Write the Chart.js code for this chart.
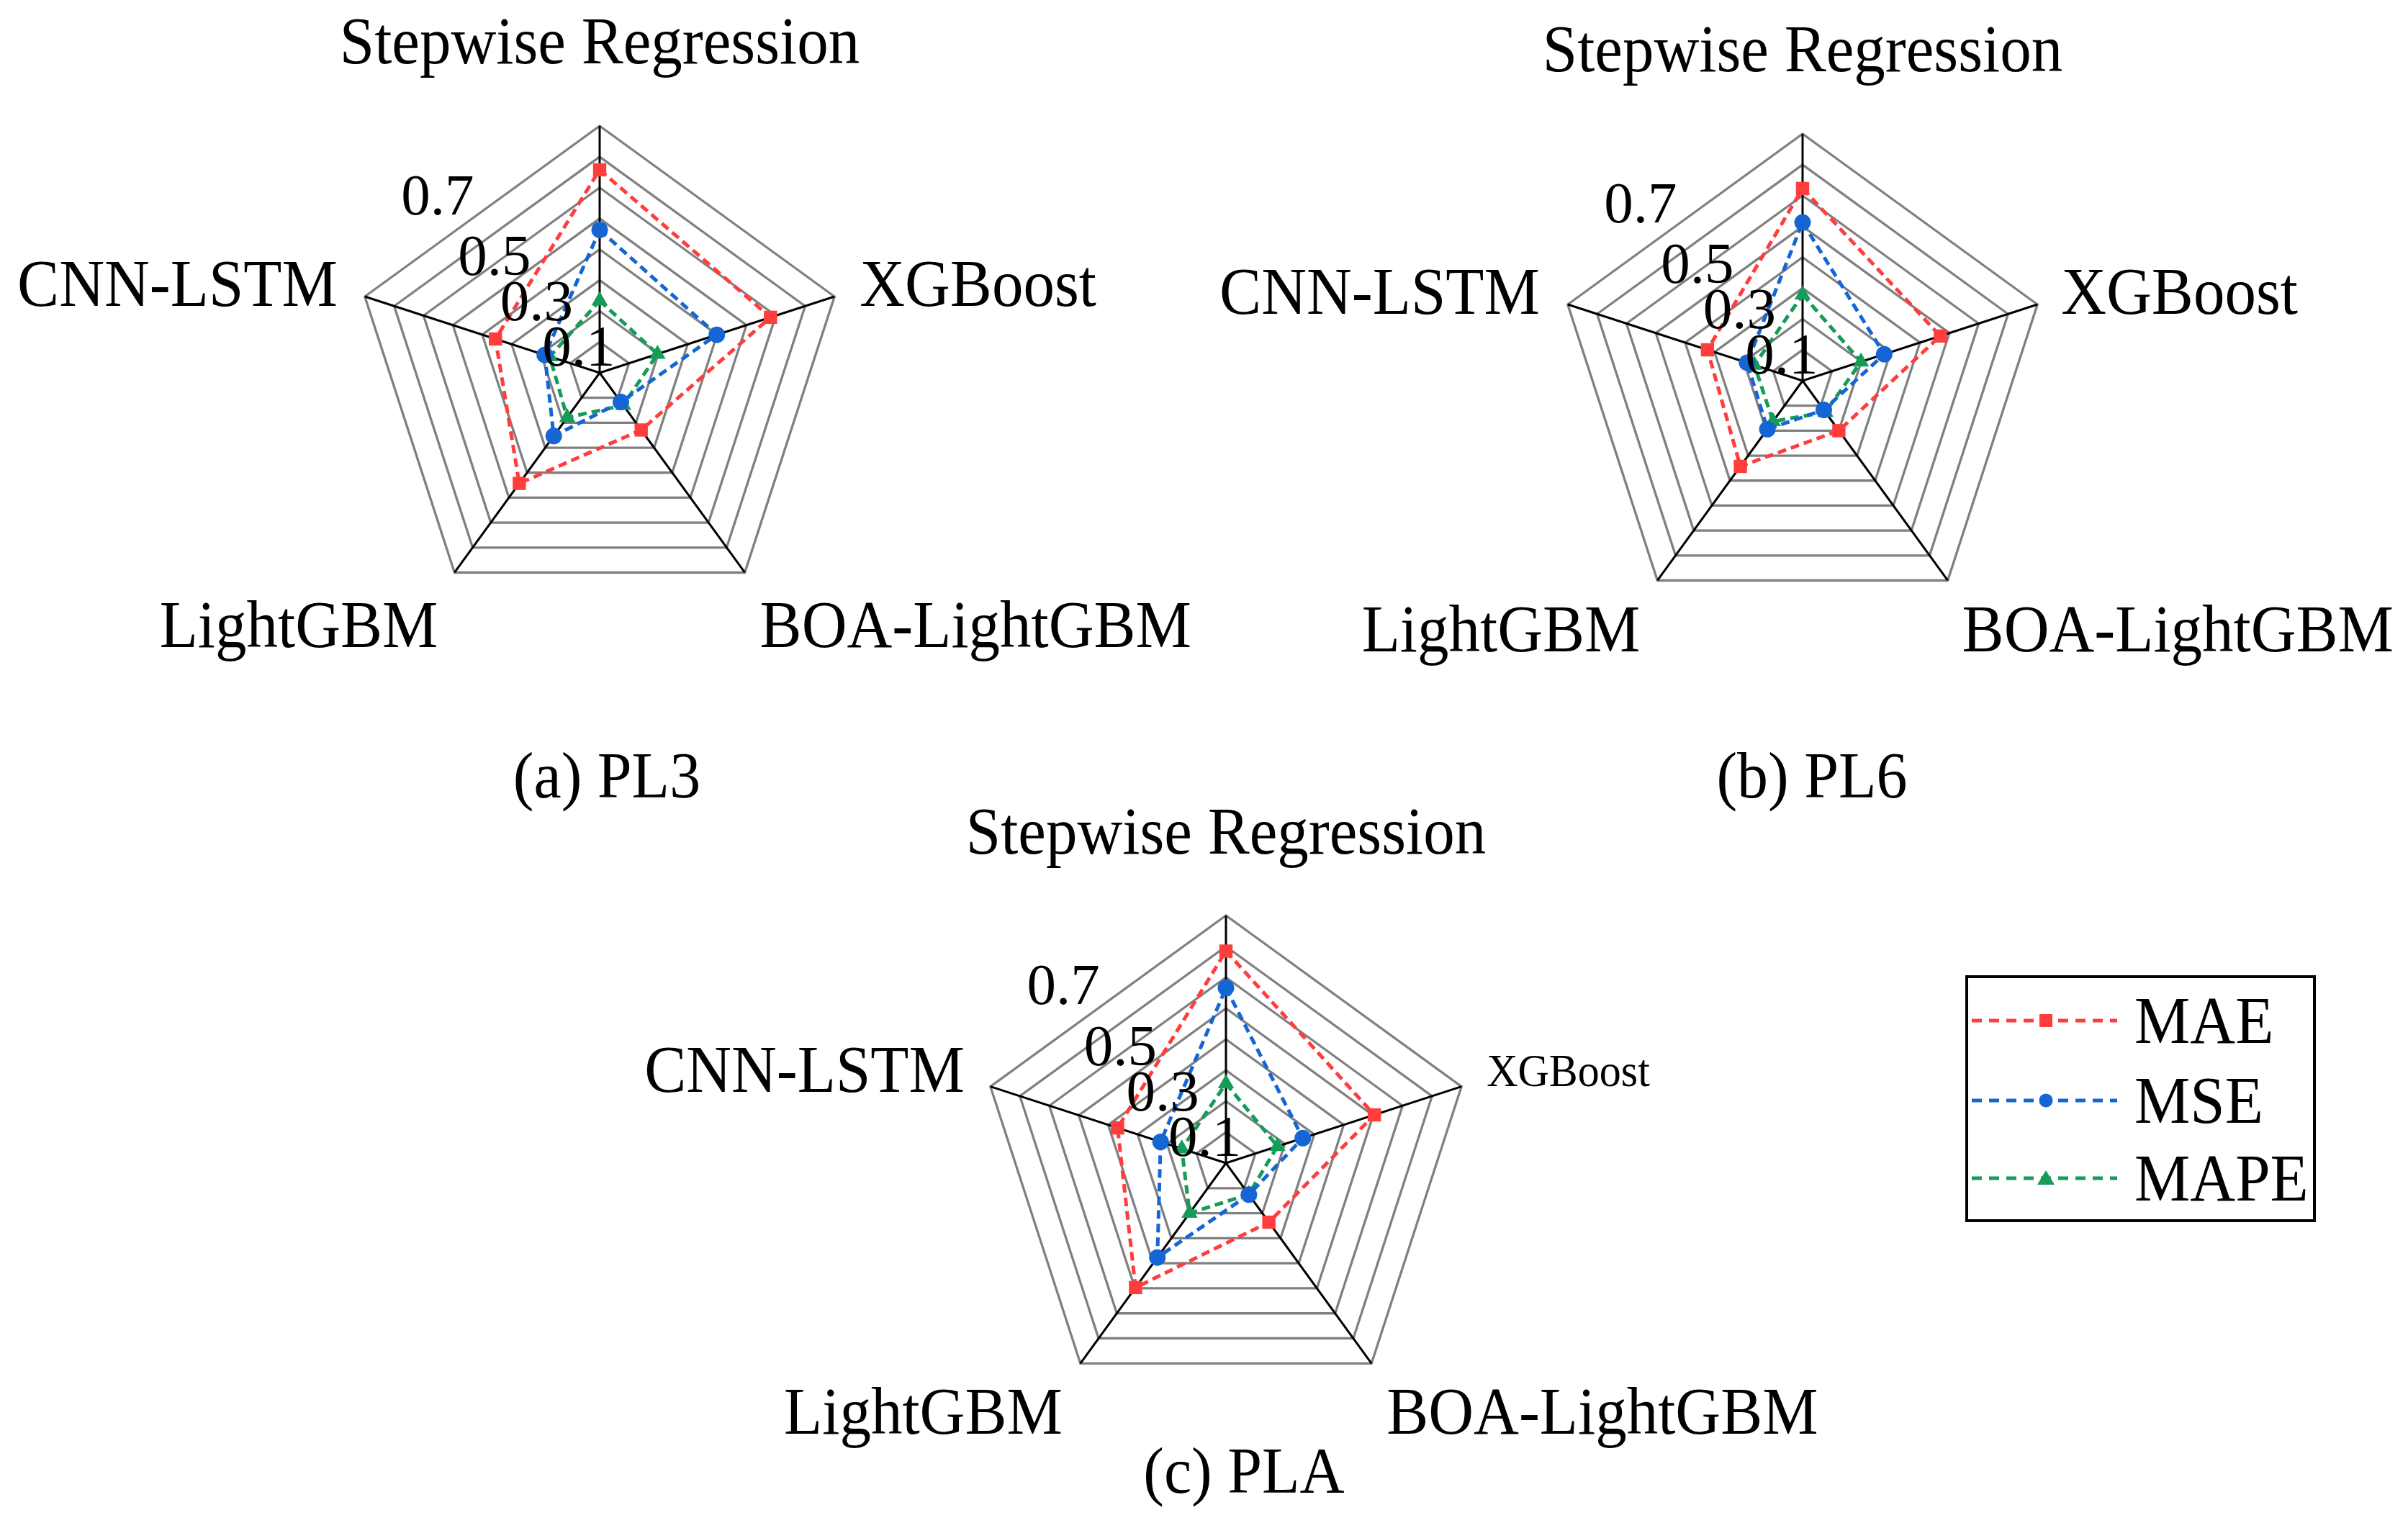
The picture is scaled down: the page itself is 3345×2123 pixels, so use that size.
<!DOCTYPE html>
<html>
<head>
<meta charset="utf-8">
<script src="https://cdn.jsdelivr.net/npm/chart.js@4.4.1/dist/chart.umd.min.js"></script>
<style>
html, body { margin: 0; padding: 0; background: #fff; }
body { width: 3345px; height: 2123px; position: relative; overflow: hidden; font-family: "Liberation Serif", "Times New Roman", serif; }
canvas { position: absolute; }
.caption { position: absolute; font-size: 86px; line-height: 1; transform: translate(-50%, -50%) scaleY(1.06); white-space: nowrap; color: #000; }
#legend { position: absolute; left: 2730px; top: 1355px; width: 479px; height: 335px; border: 4px solid #000; background: #fff; }
#legend .row { position: absolute; left: 5px; height: 90px; display: flex; align-items: center; }
#legend .row span { font-size: 87px; line-height: 90px; margin-left: 24px; display: inline-block; transform: scaleY(1.06); }
</style>
</head>
<body>
<canvas id="chartA"></canvas>
<canvas id="chartB"></canvas>
<canvas id="chartC"></canvas>
<div class="caption" style="left:843px; top:1077px;">(a) PL3</div>
<div class="caption" style="left:2517px; top:1077px;">(b) PL6</div>
<div class="caption" style="left:1728px; top:2043px;">(c) PLA</div>
<div id="legend"></div>
<script>
// categories and series
const categories = ['Stepwise Regression', 'XGBoost', 'BOA-LightGBM', 'LightGBM', 'CNN-LSTM'];
const seriesNames = ['MAE', 'MSE', 'MAPE'];
const tickValues = [0.1, 0.3, 0.5, 0.7];

// (a) PL3
const pl3MAE = [0.658, 0.582, 0.229, 0.443, 0.355];
const pl3MSE = [0.463, 0.399, 0.117, 0.253, 0.187];
const pl3MAPE = [0.234, 0.197, 0.130, 0.179, 0.170];
// (b) PL6
const pl6MAE = [0.623, 0.469, 0.200, 0.343, 0.324];
const pl6MSE = [0.513, 0.278, 0.117, 0.194, 0.189];
const pl6MAPE = [0.279, 0.199, 0.126, 0.163, 0.164];
// (c) PLA
const plaMAE = [0.685, 0.504, 0.236, 0.497, 0.368];
const plaMSE = [0.566, 0.261, 0.126, 0.377, 0.222];
const plaMAPE = [0.257, 0.175, 0.125, 0.200, 0.150];

const colors = ['#ff3d3d', '#1565d4', '#149c58'];
const markers = ['rect', 'circle', 'triangle'];
const markerRadius = [13, 11.5, 13];

const FONT = '"Liberation Serif", "Times New Roman", serif';

// draws category names and the odd tick values from the scale geometry
const axisText = {
  id: 'axisText',
  afterDraw(chart, args, opts) {
    const scale = chart.scales.r;
    const ctx = chart.ctx;
    ctx.save();
    ctx.fillStyle = '#000';
    ctx.textBaseline = 'middle';
    categories.forEach((name, i) => {
      const p = scale.getPointPosition(i, scale.drawingArea);
      const o = opts.offsets[i];
      ctx.save();
      ctx.translate(p.x + o[0], p.y + o[1]);
      ctx.scale(1, 1.06);
      ctx.font = o[3] + 'px ' + FONT;
      ctx.textAlign = o[2];
      ctx.fillText(name, 0, 0);
      ctx.restore();
    });
    // value labels sit up-left of the centre, along a ~47 degree line
    ctx.font = '81px ' + FONT;
    ctx.textAlign = 'center';
    const ang = 47 * Math.PI / 180;
    tickValues.forEach(v => {
      let d = scale.getDistanceFromCenterForValue(v);
      if (v > 0.6) d *= 1.1;
      ctx.fillText(v.toFixed(1), scale.xCenter - Math.cos(ang) * d, scale.yCenter - Math.sin(ang) * d);
    });
    ctx.restore();
  }
};

function makeRadar(id, cx, cy, R, values, offsets) {
  const W = 1800, H = 1200;
  const canvas = document.getElementById(id);
  canvas.width = W;
  canvas.height = H;
  canvas.style.width = W + 'px';
  canvas.style.height = H + 'px';
  canvas.style.left = (cx - W / 2) + 'px';
  canvas.style.top = (cy - H / 2) + 'px';
  const padX = W / 2 - R, padY = H / 2 - R;
  return new Chart(canvas.getContext('2d'), {
    type: 'radar',
    data: {
      labels: categories,
      datasets: seriesNames.map((name, k) => ({
        label: name,
        data: values[k],
        borderColor: colors[k],
        backgroundColor: colors[k],
        pointBackgroundColor: colors[k],
        pointBorderColor: colors[k],
        pointBorderWidth: 0,
        pointStyle: markers[k],
        pointRadius: markerRadius[k],
        borderWidth: 5,
        borderDash: [12, 7],
        fill: false
      }))
    },
    options: {
      responsive: false,
      animation: false,
      devicePixelRatio: 1,
      layout: { padding: { left: padX, right: padX, top: padY, bottom: padY } },
      plugins: {
        legend: { display: false },
        tooltip: { enabled: false },
        axisText: { offsets: offsets }
      },
      scales: {
        r: {
          min: 0,
          max: 0.8,
          ticks: { stepSize: 0.1, display: false },
          grid: { color: '#808080', lineWidth: 3.3 },
          angleLines: { color: '#000', lineWidth: 3 },
          pointLabels: { display: false }
        }
      }
    },
    plugins: [axisText]
  });
}

makeRadar('chartA', 833, 518, 343, [pl3MAE, pl3MSE, pl3MAPE], [
  [0, -111, 'center', 87],
  [35, -11, 'left', 87],
  [21, 79, 'left', 87],
  [-23, 79, 'right', 87],
  [-38, -11, 'right', 87]
]);
makeRadar('chartB', 2504, 529, 343, [pl6MAE, pl6MSE, pl6MAPE], [
  [0, -111, 'center', 87],
  [33, -11, 'left', 87],
  [20, 74, 'left', 87],
  [-24, 74, 'right', 87],
  [-39, -11, 'right', 87]
]);
makeRadar('chartC', 1703, 1616, 344, [plaMAE, plaMSE, plaMAPE], [
  [0, -110, 'center', 87],
  [35, -17, 'left', 60],
  [21, 73, 'left', 87],
  [-25, 73, 'right', 87],
  [-36, -17, 'right', 87]
]);

// legend
function markerSvg(k) {
  const c = colors[k];
  if (markers[k] === 'rect') return `<rect x="94" y="11" width="18" height="18" fill="${c}"/>`;
  if (markers[k] === 'circle') return `<circle cx="103" cy="20" r="9.5" fill="${c}"/>`;
  return `<polygon points="103,9 115,29 91,29" fill="${c}"/>`;
}
const legend = document.getElementById('legend');
seriesNames.forEach((name, k) => {
  const row = document.createElement('div');
  row.className = 'row';
  row.style.top = [14, 125, 233][k] + 'px';
  row.innerHTML = `<svg width="202" height="40" viewBox="0 0 202 40"><line x1="0" y1="20" x2="202" y2="20" stroke="${colors[k]}" stroke-width="5" stroke-dasharray="14 10"/>${markerSvg(k)}</svg><span>${name}</span>`;
  legend.appendChild(row);
});
</script>
</body>
</html>
